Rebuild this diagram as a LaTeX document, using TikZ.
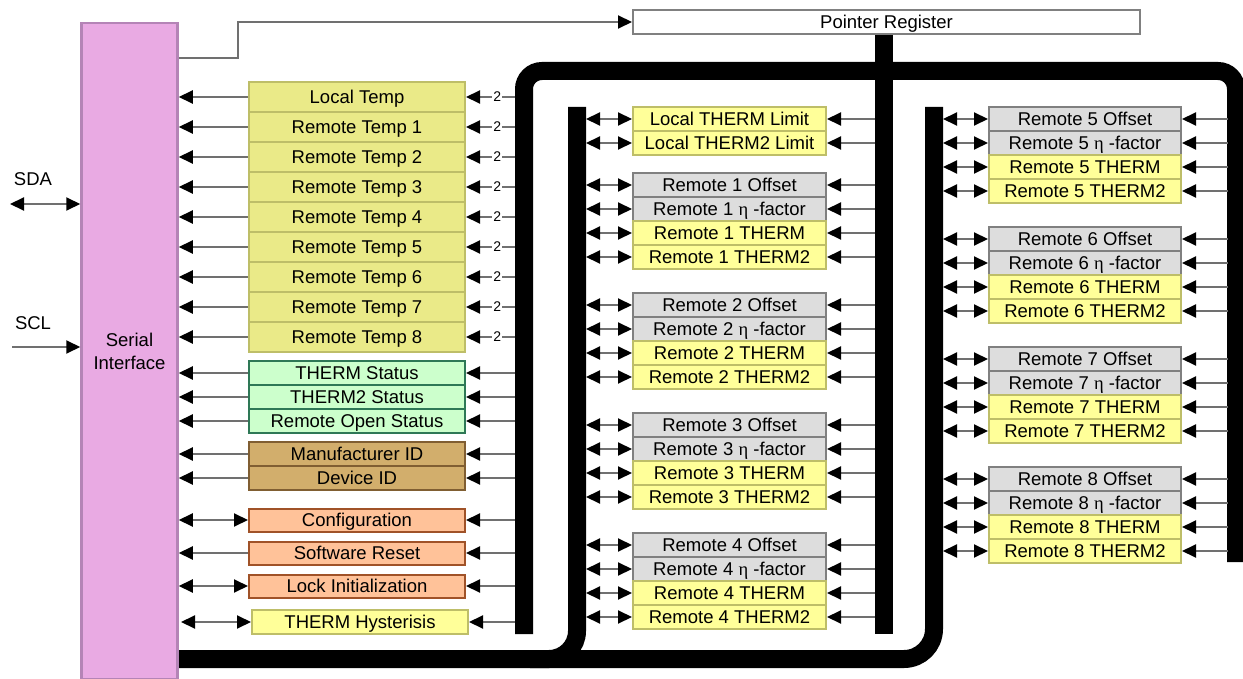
\documentclass[tikz,border=0pt]{standalone}
\usepackage{fontspec}
\setmainfont{Liberation Sans}
\newfontfamily\grk{Liberation Serif}
\usetikzlibrary{arrows.meta}
\definecolor{sifill}{RGB}{233,170,227}
\definecolor{sibord}{RGB}{180,132,182}
\definecolor{tfill}{RGB}{234,234,136}
\definecolor{tbord}{RGB}{190,190,104}
\definecolor{gfill}{RGB}{204,255,204}
\definecolor{gbord}{RGB}{46,120,86}
\definecolor{bfill}{RGB}{210,174,108}
\definecolor{bbord}{RGB}{128,94,50}
\definecolor{ofill}{RGB}{255,194,153}
\definecolor{obord}{RGB}{160,82,40}
\definecolor{yfill}{RGB}{255,255,153}
\definecolor{ybord}{RGB}{190,190,104}
\definecolor{gyfill}{RGB}{221,221,221}
\definecolor{gybord}{RGB}{128,128,128}
\definecolor{lgray}{RGB}{112,112,112}
\begin{document}
\begin{tikzpicture}[x=1pt,y=-1pt,
  font=\fontsize{18.5}{23}\selectfont,
  box/.style={draw, line width=2pt, inner sep=0pt, minimum height=24pt, text height=13pt, text depth=0pt},
  tempbox/.style={box, fill=tfill, draw=tbord, minimum width=216pt, minimum height=30pt},
  greenbox/.style={box, fill=gfill, draw=gbord, minimum width=216pt},
  brownbox/.style={box, fill=bfill, draw=bbord, minimum width=216pt},
  orangebox/.style={box, fill=ofill, draw=obord, minimum width=216pt, minimum height=23pt},
  ybox/.style={box, fill=yfill, draw=ybord, minimum width=193pt},
  gybox/.style={box, fill=gyfill, draw=gybord, minimum width=193pt},
  bus/.style={line width=18pt, draw=black},
  arr/.style={draw=lgray, line width=2pt, -{Triangle[length=14pt,width=13pt,color=black]}},
  darr/.style={draw=lgray, line width=2pt, {Triangle[length=14pt,width=13pt,color=black]}-{Triangle[length=14pt,width=13pt,color=black]}},
  num/.style={fill=white, inner sep=1pt, font=\fontsize{14}{15}\selectfont}]
\useasboundingbox (0,0) rectangle (1243,679);

% buses
\draw[bus, rounded corners=18pt] (524,634) -- (524,71) -- (1236,71) -- (1236,562);
\draw[bus] (884,34) -- (884,634);
\draw[bus, rounded corners=30pt] (178,659) -- (934,659) -- (934,107);
\draw[bus, rounded corners=28pt] (577,107) -- (577,659) -- (530,659);

\coordinate (b1l) at (515,0);
\coordinate (b2) at (586,0);
\coordinate (pb) at (875,0);
\coordinate (b3) at (943,0);
\coordinate (b1r) at (1228,0);

% serial interface
\node[draw=sibord, fill=sifill, line width=2.5pt, minimum width=96pt, minimum height=656pt,
  anchor=north, align=center, inner sep=0pt] (si) at (129.5,22) {Serial\\Interface};

% pointer register
\node[box, draw=gybord, fill=white, minimum width=507pt] (ptr) at (886.5,22) {Pointer Register};
\coordinate (pk) at (238,58);
\draw[arr] (si.east |- pk) -- (pk) -- (pk |- ptr.west) -- (ptr.west);

% SDA / SCL
\node (sda) at (33,179) {SDA};
\node (scl) at (33,323) {SCL};
\coordinate (sdae) at (10,204);
\coordinate (scle) at (12,347);
\draw[darr] (sdae) -- (si.west |- sdae);
\draw[arr] (scle) -- (si.west |- scle);

% left column
\node[tempbox] (t0) at (357,97) {Local Temp};
\foreach \i in {1,...,8}
  \node[tempbox] (t\i) at (357,97+30*\i) {Remote Temp \i};
\foreach \i in {0,...,8}{
  \draw[arr] (t\i.west) -- (si.east |- t\i.west);
  \draw[arr] (b1l |- t\i.east) -- node[num, pos=0.36]{2} (t\i.east);
}
\node[greenbox] (ts) at (357,373) {THERM Status};
\node[greenbox] (t2s) at (357,397) {THERM2 Status};
\node[greenbox] (ros) at (357,421) {Remote Open Status};
\node[brownbox] (mid) at (357,454) {Manufacturer ID};
\node[brownbox] (did) at (357,478) {Device ID};
\node[orangebox] (cfg) at (357,520) {Configuration};
\node[orangebox] (swr) at (357,553) {Software Reset};
\node[orangebox] (lck) at (357,586) {Lock Initialization};
\node[ybox, minimum width=216pt] (hys) at (360,622) {THERM Hysterisis};
\foreach \n in {ts,t2s,ros,mid,did,swr}
  \draw[arr] (\n.west) -- (si.east |- \n.west);
\foreach \n in {cfg,lck}
  \draw[darr] (\n.west) -- (si.east |- \n.west);
\coordinate (hl) at (181,622);
\draw[darr] (hys.west) -- (hl);
\foreach \n in {ts,t2s,ros,mid,did,cfg,swr,lck,hys}
  \draw[arr] (b1l |- \n.east) -- (\n.east);

% middle column
\node[ybox] (ltl) at (729.5,119) {Local THERM Limit};
\node[ybox] (lt2l) at (729.5,143) {Local THERM2 Limit};
\foreach \g/\b in {1/185,2/305,3/425,4/545}{
  \node[gybox] (off\g) at (729.5,\b) {Remote \g\ Offset};
  \node[gybox] (eta\g) at (729.5,\b+24) {Remote \g\ {\grk η} -factor};
  \node[ybox] (th\g) at (729.5,\b+48) {Remote \g\ THERM};
  \node[ybox] (thb\g) at (729.5,\b+72) {Remote \g\ THERM2};
}
\foreach \n in {ltl,lt2l,off1,eta1,th1,thb1,off2,eta2,th2,thb2,off3,eta3,th3,thb3,off4,eta4,th4,thb4}{
  \draw[darr] (b2 |- \n.west) -- (\n.west);
  \draw[arr] (pb |- \n.east) -- (\n.east);
}

% right column
\foreach \g/\b in {5/119,6/239,7/359,8/479}{
  \node[gybox, minimum width=192pt] (off\g) at (1085,\b) {Remote \g\ Offset};
  \node[gybox, minimum width=192pt] (eta\g) at (1085,\b+24) {Remote \g\ {\grk η} -factor};
  \node[ybox, minimum width=192pt] (th\g) at (1085,\b+48) {Remote \g\ THERM};
  \node[ybox, minimum width=192pt] (thb\g) at (1085,\b+72) {Remote \g\ THERM2};
}
\foreach \n in {off5,eta5,th5,thb5,off6,eta6,th6,thb6,off7,eta7,th7,thb7,off8,eta8,th8,thb8}{
  \draw[darr] (b3 |- \n.west) -- (\n.west);
  \draw[arr] (b1r |- \n.east) -- (\n.east);
}
\end{tikzpicture}
\end{document}
